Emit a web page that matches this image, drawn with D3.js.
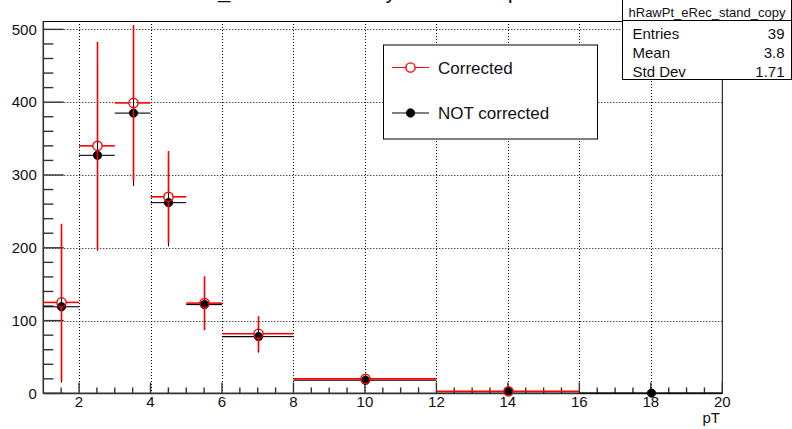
<!DOCTYPE html>
<html>
<head>
<meta charset="utf-8">
<script src="https://cdn.jsdelivr.net/npm/d3@7"></script>
<style>
  html, body { margin: 0; padding: 0; background: #fff; }
  svg { display: block; }
  text { font-family: "Liberation Sans", Arial, Helvetica, sans-serif; }
</style>
</head>
<body>
<svg id="chart" width="792" height="429"></svg>
<script>
// pT bins (low edge, high edge, centre)
const binLow  = [1, 2, 3, 4, 5, 6, 8, 12, 16];
const binHigh = [2, 3, 4, 5, 6, 8, 12, 16, 20];
const binCenter = [1.5, 2.5, 3.5, 4.5, 5.5, 7, 10, 14, 18];

// efficiency-corrected yield and its error
const corrected    = [125, 340, 399, 270, 124, 82, 20, 3, 0];
const correctedErr = [108, 143, 107, 63, 37, 24, 5, 1.5, 0];

// raw yield (no correction) and its error
const notCorrected    = [119, 327, 385, 262, 122, 78, 18, 2.5, 0.4];
const notCorrectedErr = [104, 131, 100, 60, 35, 22, 4.5, 1.5, 0.4];

const xTicks = [2, 4, 6, 8, 10, 12, 14, 16, 18, 20];
const yTicks = [0, 100, 200, 300, 400, 500];

const statsTitle = "hRawPt_eRec_stand_copy";
const statsNames = ["Entries", "Mean", "Std Dev"];
const statsValues = ["39", "3.8", "1.71"];
const legendLabels = ["Corrected", "NOT corrected"];
const histTitle = "Raw_eRec corrected yield versus pT";

const svg = d3.select("#chart");
const frame = { left: 43.3, right: 722.3, top: 21, bottom: 393.4 };

const x = d3.scaleLinear().domain([1, 20]).range([frame.left, frame.right]);
const y = d3.scaleLinear().domain([0, 511.5]).range([frame.bottom, frame.top]);

svg.append("rect").attr("width", 792).attr("height", 429).attr("fill", "#fff");

// dotted grid
const grid = svg.append("g").attr("stroke", "#000").attr("stroke-width", 1)
  .attr("stroke-dasharray", "1,2");
grid.selectAll("line.v").data(xTicks.filter(t => t < 20)).join("line")
  .attr("x1", d => Math.round(x(d)) + 0.5).attr("x2", d => Math.round(x(d)) + 0.5)
  .attr("y1", frame.top).attr("y2", frame.bottom);
grid.selectAll("line.h").data(yTicks.filter(t => t > 0)).join("line")
  .attr("x1", frame.left).attr("x2", frame.right)
  .attr("y1", d => Math.round(y(d)) + 0.5).attr("y2", d => Math.round(y(d)) + 0.5);

// frame top and right
svg.append("path")
  .attr("d", `M${frame.left},${frame.top + 0.5}H${frame.right}V${frame.bottom}`)
  .attr("fill", "none").attr("stroke", "#000").attr("stroke-width", 1);

// axes with inward ticks (ROOT style)
const axisColor = "#333";
const gx = svg.append("g").attr("transform", `translate(0,${frame.bottom})`);
gx.append("line").attr("x1", frame.left).attr("x2", frame.right)
  .attr("stroke", axisColor).attr("stroke-width", 1.6);
gx.selectAll("line.tick").data(d3.range(1.5, 20.01, 0.5)).join("line")
  .attr("x1", d => x(d)).attr("x2", d => x(d))
  .attr("y1", 0).attr("y2", d => (Math.abs(d % 2) < 1e-9 ? -11 : -6))
  .attr("stroke", axisColor).attr("stroke-width", 1.4);
gx.selectAll("text").data(xTicks).join("text")
  .attr("x", d => x(d)).attr("y", 14)
  .attr("text-anchor", "middle").attr("font-size", 15).attr("fill", "#111")
  .text(d => d);

const gy = svg.append("g").attr("transform", `translate(${frame.left},0)`);
gy.append("line").attr("y1", frame.top).attr("y2", frame.bottom)
  .attr("stroke", axisColor).attr("stroke-width", 1.6);
gy.selectAll("line.tick").data(d3.range(0, 511, 20)).join("line")
  .attr("y1", d => y(d)).attr("y2", d => y(d))
  .attr("x1", 0).attr("x2", d => (d % 100 === 0 ? 20.5 : 10))
  .attr("stroke", axisColor).attr("stroke-width", 1.4);
gy.selectAll("text").data(yTicks).join("text")
  .attr("x", -6.5).attr("y", d => y(d) + 5.3)
  .attr("text-anchor", "end").attr("font-size", 15).attr("fill", "#111")
  .text(d => d);

svg.append("text").attr("x", 720).attr("y", 423)
  .attr("text-anchor", "end").attr("font-size", 15).attr("fill", "#111")
  .text("pT");

// histogram points with error bars; lines leave a gap around the marker
function drawSeries(vals, errs, color, r, filled, lw) {
  const g = svg.append("g").attr("stroke", color).attr("stroke-width", lw).attr("fill", "none");
  binCenter.forEach((c, i) => {
    const v = vals[i];
    if (!(v > 0)) return;
    const cx = Math.round(x(c)) + 0.5, cy = y(v);
    const hi = y(v + errs[i]), lo = y(Math.max(0, v - errs[i]));
    const segs = [];
    if (cx - r > x(binLow[i])) segs.push([x(binLow[i]), cy, cx - r, cy]);
    if (x(binHigh[i]) > cx + r) segs.push([cx + r, cy, x(binHigh[i]), cy]);
    if (cy - r > hi) segs.push([cx, hi, cx, cy - r]);
    if (lo > cy + r) segs.push([cx, cy + r, cx, lo]);
    g.selectAll(null).data(segs).join("line")
      .attr("x1", s => s[0]).attr("y1", s => s[1])
      .attr("x2", s => s[2]).attr("y2", s => s[3]);
    g.append("circle").attr("cx", cx).attr("cy", cy).attr("r", r)
      .attr("fill", filled ? color : "none")
      .attr("stroke-width", filled ? 0.8 : 1.4);
  });
}
drawSeries(notCorrected, notCorrectedErr, "#000", 4.2, true, 1.1);
drawSeries(corrected, correctedErr, "#ff0000", 4.6, false, 1.6);

// legend
const leg = svg.append("g");
leg.append("rect").attr("x", 383.5).attr("y", 45).attr("width", 214).attr("height", 94)
  .attr("fill", "#fff").attr("stroke", "#000").attr("stroke-width", 1);
const legRows = [
  { label: legendLabels[0], color: "#ff0000", filled: false, cy: 67.5 },
  { label: legendLabels[1], color: "#000", filled: true, cy: 113 }
];
legRows.forEach(rw => {
  leg.append("line").attr("x1", 392).attr("x2", 429).attr("y1", rw.cy).attr("y2", rw.cy)
    .attr("stroke", rw.color).attr("stroke-width", 1.2);
  leg.append("circle").attr("cx", 410.5).attr("cy", rw.cy).attr("r", rw.filled ? 4.2 : 4.6)
    .attr("fill", rw.filled ? rw.color : "#fff").attr("stroke", rw.color)
    .attr("stroke-width", rw.filled ? 0.8 : 1.4);
  leg.append("text").attr("x", 438).attr("y", rw.cy + 6)
    .attr("font-size", 17).attr("fill", "#111").text(rw.label);
});

// statistics box
const st = svg.append("g");
st.append("rect").attr("x", 622.5).attr("y", -0.5).attr("width", 169).attr("height", 80)
  .attr("fill", "#fff").attr("stroke", "#000").attr("stroke-width", 1);
st.append("line").attr("x1", 622.5).attr("x2", 791.5).attr("y1", 20.5).attr("y2", 20.5)
  .attr("stroke", "#000").attr("stroke-width", 1);
st.append("text").attr("x", 707).attr("y", 16.5).attr("text-anchor", "middle")
  .attr("font-size", 13.5).attr("textLength", 157).attr("lengthAdjust", "spacingAndGlyphs")
  .attr("fill", "#111").text(statsTitle);
statsNames.forEach((n, i) => {
  const by = 38.5 + i * 19;
  st.append("text").attr("x", 632.5).attr("y", by).attr("font-size", 15)
    .attr("fill", "#111").text(n);
  st.append("text").attr("x", 784.5).attr("y", by).attr("font-size", 15)
    .attr("text-anchor", "end").attr("fill", "#111").text(statsValues[i]);
});

// histogram title (sits at the top edge of the canvas)
svg.append("text").attr("x", 174).attr("y", -2)
  .attr("font-size", 22).attr("fill", "#111").text(histTitle);
</script>
</body>
</html>
